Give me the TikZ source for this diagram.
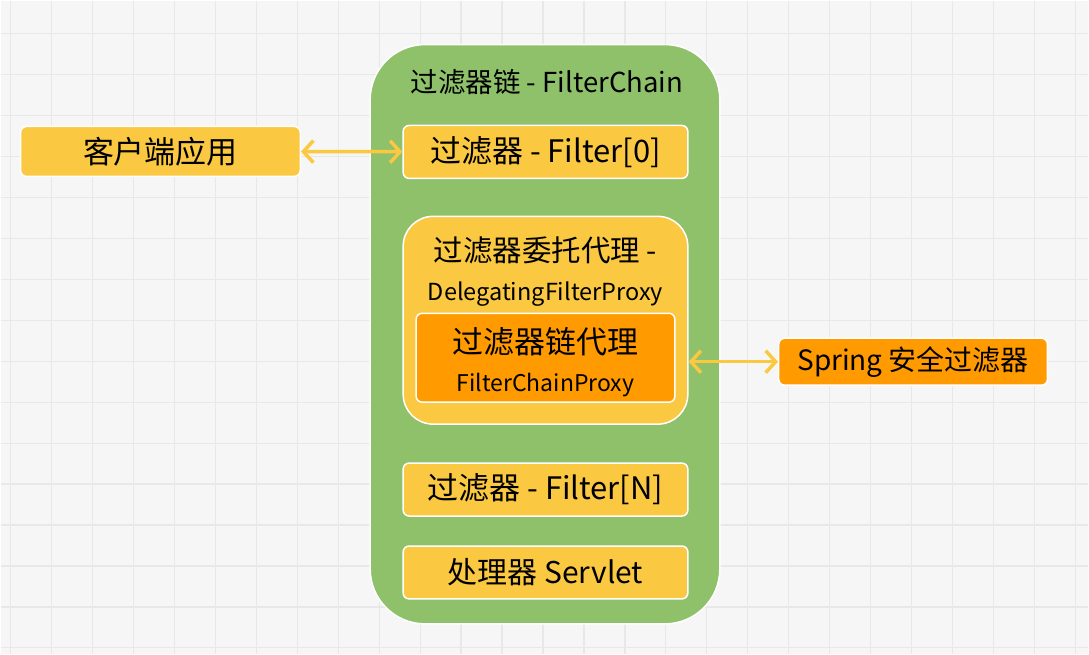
\documentclass[tikz,border=0pt]{standalone}
\usepackage{fontspec}
\setmainfont{Noto Sans CJK SC}
\usetikzlibrary{arrows.meta}
\definecolor{gridbg}{HTML}{F6F6F6}
\definecolor{gridln}{HTML}{E8E8E8}
\definecolor{boxyellow}{HTML}{FAC841}
\definecolor{boxorange}{HTML}{FF9A00}
\definecolor{chaingreen}{HTML}{8FC06A}

\begin{document}
\begin{tikzpicture}[x=1pt,y=-1pt,
      every node/.style={font=\fontsize{28}{38}\selectfont, inner sep=0pt},
      ybox/.style={draw=white, line width=1.5pt, fill=boxyellow, rounded corners=6pt,
        minimum width=285pt, minimum height=53pt},
      obox/.style={draw=white, line width=1.5pt, fill=boxorange, rounded corners=6pt},
      link/.style={{Straight Barb[length=10pt,width=22pt]}-{Straight Barb[length=10pt,width=22pt]},
        color=boxyellow, line width=3.5pt}
      ]
      % background
      \fill[gridbg] (0,0) rectangle (1089,654);
      \foreach \gx in {10,51,...,1089} \draw[gridln, line width=1.2pt] (\gx,0) -- (\gx,654);
      \foreach \gy in {33,74,...,654} \draw[gridln, line width=1.2pt] (0,\gy) -- (1089,\gy);
      \useasboundingbox (0,0) rectangle (1089,654);

      % filter chain
      \node[draw=white, line width=1.5pt, fill=chaingreen, rounded corners=55pt,
        minimum width=350pt, minimum height=580pt] (chain) at (545,334) {};
      \node[font=\fontsize{27.5}{38}\selectfont] (chaintitle) at (547,82) {过滤器链 - FilterChain};

      \node[ybox, font=\fontsize{31}{38}\selectfont] (filter0) at (545.5,151.5) {过滤器 - Filter[0]};
      \node[ybox, rounded corners=30pt, minimum height=208pt] (delegating) at (545.5,320) {};
      \node[align=center, font=\fontsize{23.5}{39}\selectfont] (deltitle) at (545.5,271)
        {\fontsize{29.5}{39}\selectfont 过滤器委托代理 -\\DelegatingFilterProxy};
      \node[obox, minimum width=259pt, minimum height=89pt] (proxy) at (545.5,357.5) {};
      \node[align=center, font=\fontsize{23}{38}\selectfont] (proxytext) at (545.5,362)
        {\fontsize{31}{38}\selectfont 过滤器链代理\\FilterChainProxy};
      \node[ybox, font=\fontsize{31}{38}\selectfont] (filterN) at (545.5,489.5) {过滤器 - Filter[N]};
      \node[ybox, font=\fontsize{30}{38}\selectfont] (servlet) at (545.5,572.5) {处理器 Servlet};

      % outside
      \node[ybox, minimum width=280pt, minimum height=50pt, font=\fontsize{31}{38}\selectfont]
        (client) at (160,151) {客户端应用};
      \node[obox, minimum width=269pt, minimum height=47pt] (spring) at (913.5,361.5) {Spring 安全过滤器};

      \draw[link] (client) -- (filter0);
      \draw[link] (spring.west -| delegating.east) -- (spring.west);
    \end{tikzpicture}
\end{document}
